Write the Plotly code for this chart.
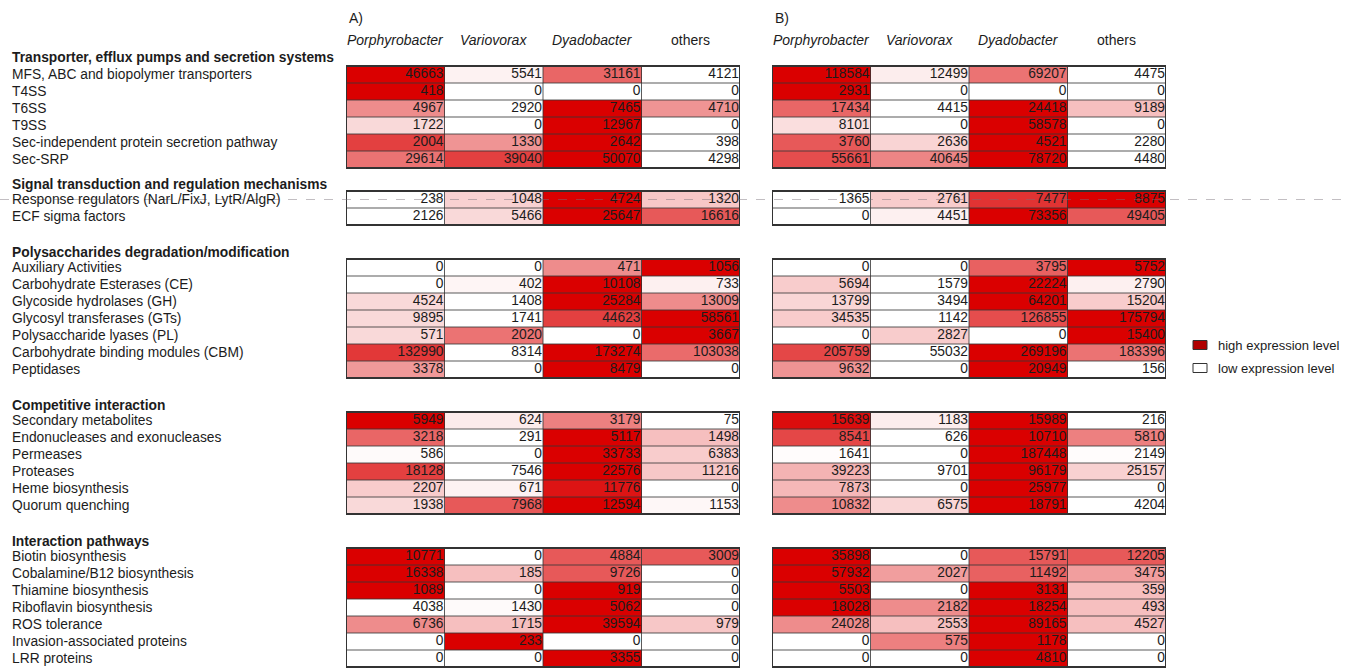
import plotly.graph_objects as go

# ---------------------------------------------------------------- data
section_titles = [
    "Transporter, efflux pumps and secretion systems",
    "Signal transduction and regulation mechanisms",
    "Polysaccharides degradation/modification",
    "Competitive interaction",
    "Interaction pathways",
]
section_sizes = [6, 2, 7, 6, 7]

row_labels = [
    "MFS, ABC and biopolymer transporters", "T4SS", "T6SS", "T9SS",
    "Sec-independent protein secretion pathway", "Sec-SRP",
    "Response regulators (NarL/FixJ, LytR/AlgR)", "ECF sigma factors",
    "Auxiliary Activities", "Carbohydrate Esterases (CE)", "Glycoside hydrolases (GH)",
    "Glycosyl transferases (GTs)", "Polysaccharide lyases (PL)",
    "Carbohydrate binding modules (CBM)", "Peptidases",
    "Secondary metabolites", "Endonucleases and exonucleases", "Permeases",
    "Proteases", "Heme biosynthesis", "Quorum quenching",
    "Biotin biosynthesis", "Cobalamine/B12 biosynthesis", "Thiamine biosynthesis",
    "Riboflavin biosynthesis", "ROS tolerance", "Invasion-associated proteins",
    "LRR proteins",
]

taxa = ["Porphyrobacter", "Variovorax", "Dyadobacter", "others"]
taxa_italic = [True, True, True, False]
panel_labels = ["A)", "B)"]

counts_a = [
    [46663, 5541, 31161, 4121], [418, 0, 0, 0], [4967, 2920, 7465, 4710],
    [1722, 0, 12967, 0], [2004, 1330, 2642, 398], [29614, 39040, 50070, 4298],
    [238, 1048, 4724, 1320], [2126, 5466, 25647, 16616],
    [0, 0, 471, 1056], [0, 402, 10108, 733], [4524, 1408, 25284, 13009],
    [9895, 1741, 44623, 58561], [571, 2020, 0, 3667], [132990, 8314, 173274, 103038],
    [3378, 0, 8479, 0],
    [5949, 624, 3179, 75], [3218, 291, 5117, 1498], [586, 0, 33733, 6383],
    [18128, 7546, 22576, 11216], [2207, 671, 11776, 0], [1938, 7968, 12594, 1153],
    [10771, 0, 4884, 3009], [16338, 185, 9726, 0], [1089, 0, 919, 0],
    [4038, 1430, 5062, 0], [6736, 1715, 39594, 979], [0, 233, 0, 0],
    [0, 0, 3355, 0],
]

counts_b = [
    [118584, 12499, 69207, 4475], [2931, 0, 0, 0], [17434, 4415, 24418, 9189],
    [8101, 0, 58578, 0], [3760, 2636, 4521, 2280], [55661, 40645, 78720, 4480],
    [1365, 2761, 7477, 8875], [0, 4451, 73356, 49405],
    [0, 0, 3795, 5752], [5694, 1579, 22224, 2790], [13799, 3494, 64201, 15204],
    [34535, 1142, 126855, 175794], [0, 2827, 0, 15400], [205759, 55032, 269196, 183396],
    [9632, 0, 20949, 156],
    [15639, 1183, 15989, 216], [8541, 626, 10710, 5810], [1641, 0, 187448, 2149],
    [39223, 9701, 96179, 25157], [7873, 0, 25977, 0], [10832, 6575, 18791, 4204],
    [35898, 0, 15791, 12205], [57932, 2027, 11492, 3475], [5503, 0, 3131, 359],
    [18028, 2182, 18254, 493], [24028, 2553, 89165, 4527], [0, 575, 1178, 0],
    [0, 0, 4810, 0],
]

# relative expression level (0 = low, 1 = high) used for the cell shading
level_a = [
    [1.00, 0.05, 0.60, 0.00], [1.00, 0.00, 0.00, 0.00], [0.45, 0.00, 1.00, 0.42],
    [0.15, 0.00, 1.00, 0.00], [0.75, 0.42, 1.00, 0.00], [0.55, 0.75, 1.00, 0.00],
    [0.00, 0.18, 1.00, 0.22], [0.00, 0.15, 1.00, 0.65],
    [0.00, 0.00, 0.45, 1.00], [0.00, 0.04, 1.00, 0.06], [0.15, 0.00, 1.00, 0.45],
    [0.15, 0.00, 0.75, 1.00], [0.15, 0.55, 0.00, 1.00], [0.78, 0.00, 1.00, 0.58],
    [0.40, 0.00, 1.00, 0.00],
    [1.00, 0.08, 0.50, 0.00], [0.60, 0.00, 1.00, 0.25], [0.02, 0.00, 1.00, 0.20],
    [0.75, 0.00, 1.00, 0.22], [0.20, 0.05, 0.92, 0.00], [0.15, 0.65, 1.00, 0.03],
    [1.00, 0.00, 0.65, 0.65], [1.00, 0.25, 0.65, 0.00], [1.00, 0.00, 1.00, 0.00],
    [0.00, 0.02, 1.00, 0.00], [0.45, 0.25, 1.00, 0.22], [0.00, 1.00, 0.00, 0.00],
    [0.00, 0.00, 1.00, 0.00],
]

level_b = [
    [1.00, 0.07, 0.55, 0.00], [1.00, 0.00, 0.00, 0.00], [0.60, 0.00, 1.00, 0.25],
    [0.13, 0.00, 1.00, 0.00], [0.65, 0.17, 1.00, 0.00], [0.70, 0.48, 1.00, 0.00],
    [0.00, 0.20, 0.80, 1.00], [0.00, 0.06, 1.00, 0.65],
    [0.00, 0.00, 0.62, 1.00], [0.20, 0.00, 1.00, 0.06], [0.16, 0.00, 1.00, 0.20],
    [0.20, 0.00, 0.70, 1.00], [0.00, 0.20, 0.00, 1.00], [0.72, 0.00, 1.00, 0.55],
    [0.42, 0.00, 1.00, 0.00],
    [0.95, 0.07, 1.00, 0.00], [0.72, 0.00, 1.00, 0.50], [0.01, 0.00, 1.00, 0.01],
    [0.30, 0.00, 1.00, 0.18], [0.28, 0.00, 1.00, 0.00], [0.45, 0.16, 1.00, 0.00],
    [1.00, 0.00, 0.65, 0.65], [1.00, 0.38, 0.62, 0.38], [1.00, 0.00, 1.00, 0.25],
    [1.00, 0.45, 1.00, 0.25], [0.45, 0.25, 1.00, 0.25], [0.00, 0.50, 1.00, 0.00],
    [0.00, 0.00, 1.00, 0.00],
]

# ---------------------------------------------------------------- layout constants
W, H = 1345, 668
ROW_PX = 17.0            # height of one table row in pixels
TOP_PX = 66.0            # top edge of the first table
gap_before = [0, 1.35, 2, 2, 2]   # blank space before each block, in rows
panel_px = [(346, 740), (772, 1166)]

FONT = "Liberation Sans, Arial, sans-serif"
BODY_SIZE = 13.8
RED = "rgb(218,0,0)"
TXT = "#1c1c1c"


def py(px):  # pixel row -> paper fraction
    return 1 - px / H


def px_(x):  # pixel column -> paper fraction
    return x / W


# slot positions of the blocks
starts = []
s = 0.0
for g, n in zip(gap_before, section_sizes):
    s += g
    starts.append(s)
    s += n

fig = go.Figure()
shapes = []
annotations = []

panels = [(counts_a, level_a, "x", "y"), (counts_b, level_b, "x2", "y")]

for p, (counts, levels, xr, yr) in enumerate(panels):
    row0 = 0
    for bi, (start, n) in enumerate(zip(starts, section_sizes)):
        ys = [start + 0.5 + k for k in range(n)]
        z = levels[row0:row0 + n]
        vals = counts[row0:row0 + n]
        fig.add_trace(go.Heatmap(
            x=list(range(len(taxa))), y=ys, z=z, zmin=0, zmax=1,
            colorscale=[[0, "#ffffff"], [1, RED]], showscale=False,
            hoverinfo="skip", xaxis=xr, yaxis=yr,
        ))
        # right-aligned numbers in each cell
        tx, ty, tt = [], [], []
        for k in range(n):
            for c in range(len(taxa)):
                tx.append(c + 0.49)
                ty.append(ys[k])
                tt.append(str(vals[k][c]))
        fig.add_trace(go.Scatter(
            x=tx, y=ty, text=tt, mode="text", textposition="middle left",
            textfont=dict(family=FONT, size=BODY_SIZE, color=TXT),
            hoverinfo="skip", showlegend=False, xaxis=xr, yaxis=yr,
        ))
        # internal grid
        for k in range(1, n):
            shapes.append(dict(type="line", xref=xr, yref=yr, x0=-0.5, x1=3.5,
                               y0=start + k, y1=start + k,
                               line=dict(color="rgba(55,55,55,0.55)", width=1.5)))
        for c in range(1, len(taxa)):
            shapes.append(dict(type="line", xref=xr, yref=yr, x0=c - 0.5, x1=c - 0.5,
                               y0=start, y1=start + n,
                               line=dict(color="rgba(50,50,50,0.8)", width=1)))
        shapes.append(dict(type="rect", xref=xr, yref=yr, x0=-0.5, x1=3.5,
                           y0=start, y1=start + n,
                           line=dict(color="#333333", width=2)))
        row0 += n

    # panel letter and column headers
    annotations.append(dict(xref="paper", yref="paper", x=px_(panel_px[p][0] + 1), y=py(18),
                            text=panel_labels[p], showarrow=False, xanchor="left",
                            yanchor="middle", font=dict(family=FONT, size=14, color=TXT)))
    for c, name in enumerate(taxa):
        label = f"<i>{name}</i>" if taxa_italic[c] else name
        annotations.append(dict(xref=xr, yref="paper", x=c, y=py(40), text=label,
                                showarrow=False, xanchor="center", yanchor="middle",
                                font=dict(family=FONT, size=14, color=TXT)))

# row labels and block titles
row0 = 0
for bi, (start, n) in enumerate(zip(starts, section_sizes)):
    annotations.append(dict(xref="paper", yref="y", x=px_(10), y=start - (0.5 if bi == 0 else 0.4),
                            text=f"<b>{section_titles[bi]}</b>", showarrow=False,
                            xanchor="left", yanchor="middle",
                            font=dict(family=FONT, size=BODY_SIZE, color=TXT)))
    for k in range(n):
        annotations.append(dict(xref="paper", yref="y", x=px_(10), y=start + 0.5 + k,
                                text=row_labels[row0 + k], showarrow=False,
                                xanchor="left", yanchor="middle",
                                font=dict(family=FONT, size=BODY_SIZE, color=TXT)))
    row0 += n

# thin rule crossing the page through the response-regulator row
shapes.append(dict(type="line", xref="paper", yref="paper", x0=0, x1=1,
                   y0=py(199.5), y1=py(199.5),
                   line=dict(color="rgba(120,110,120,0.45)", width=1, dash="dash")))

# legend
legend_items = [("high expression level", "#b00000", 345), ("low expression level", "#ffffff", 368)]
for text, fill, yc in legend_items:
    shapes.append(dict(type="rect", xref="paper", yref="paper",
                       x0=px_(1193), x1=px_(1207), y0=py(yc + 4.5), y1=py(yc - 4.5),
                       fillcolor=fill, line=dict(color="#333333", width=1)))
    annotations.append(dict(xref="paper", yref="paper", x=px_(1216), y=py(yc), text=text,
                            showarrow=False, xanchor="left", yanchor="middle",
                            font=dict(family=FONT, size=13, color=TXT)))

y_top = -TOP_PX / ROW_PX
y_bot = (H - TOP_PX) / ROW_PX
axis_off = dict(visible=False, showgrid=False, zeroline=False, fixedrange=True)
fig.update_layout(
    width=W, height=H, margin=dict(l=0, r=0, t=0, b=0),
    paper_bgcolor="white", plot_bgcolor="rgba(0,0,0,0)",
    xaxis=dict(domain=[px_(panel_px[0][0]), px_(panel_px[0][1])], range=[-0.5, 3.5], **axis_off),
    xaxis2=dict(domain=[px_(panel_px[1][0]), px_(panel_px[1][1])], range=[-0.5, 3.5], **axis_off),
    yaxis=dict(domain=[0, 1], range=[y_bot, y_top], **axis_off),
    shapes=shapes, annotations=annotations, showlegend=False,
)

fig.write_html("out.html")
